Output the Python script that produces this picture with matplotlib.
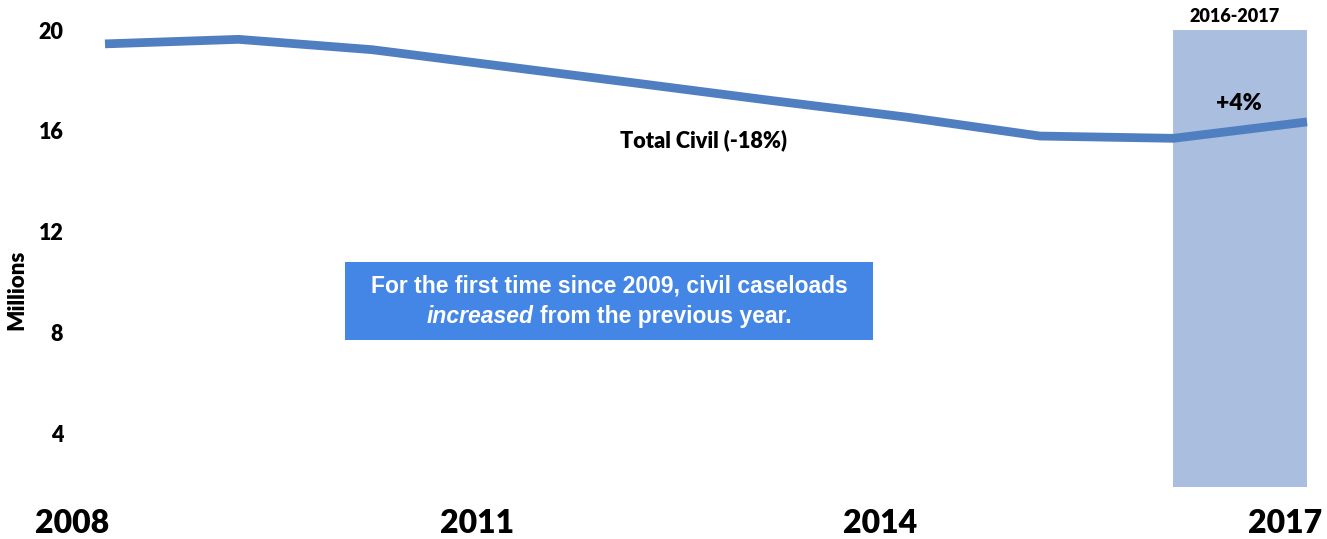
import matplotlib
matplotlib.use("Agg")
import matplotlib.pyplot as plt
from matplotlib.patches import Rectangle
from matplotlib.transforms import ScaledTranslation
from matplotlib.offsetbox import TextArea, HPacker, VPacker, AnnotationBbox

# ---- data ----
years = [2008, 2009, 2010, 2011, 2012, 2013, 2014, 2015, 2016, 2017]
total_civil = [19.45, 19.63, 19.22, 18.55, 17.88, 17.2, 16.55, 15.8, 15.71, 16.36]
y_ticks = [4, 8, 12, 16, 20]
x_ticks = [2008, 2011, 2014, 2017]
x_tick_labels = ["2008", "2011", "2014", "2017"]
highlight_span = (2016, 2017)
series_label = "Total Civil (-18%)"
change_label = "+4%"
span_label = "2016-2017"

W, H = 1327, 539
fig = plt.figure(figsize=(W / 100, H / 100), dpi=100)
ax = fig.add_axes([105 / W, 1 - 487 / H, (1307 - 105) / W, (487 - 30) / H])

LINE = "#4f7fc1"
SHADE = "#aabfdf"
BOX = "#4486e6"
TICKFONT = "Lato"
WT = "heavy"

ax.axvspan(*highlight_span, color=SHADE, zorder=1, lw=0)
ax.plot(years, total_civil, color=LINE, lw=6.3, solid_capstyle="butt",
        solid_joinstyle="miter", zorder=3, clip_on=False)

ax.set_xlim(2008, 2017)
ax.set_ylim(1.9, 20)
for s in ax.spines.values():
    s.set_visible(False)
ax.tick_params(length=0)

ax.set_yticks(y_ticks)
ax.set_yticklabels([str(v) for v in y_ticks], fontsize=15.5, fontweight=WT,
                   family=TICKFONT)
ax.tick_params(axis="y", pad=30)

ax.set_xticks(x_ticks)
ax.set_xticklabels(x_tick_labels, fontsize=23, fontweight=WT, family=TICKFONT)
ax.tick_params(axis="x", pad=16)
offsets = [-33, -29, -26, -22]
for lab, dx in zip(ax.get_xticklabels(), offsets):
    lab.set_transform(lab.get_transform() + ScaledTranslation(dx / 100, 0, fig.dpi_scale_trans))

fig.text(17 / W, 1 - 290 / H, "Millions", rotation=90, ha="center", va="center",
         fontsize=16, fontweight=WT, family=TICKFONT)

ax.text(2012.48, 15.64, series_label, ha="center", va="center", fontsize=15.6,
        fontweight=WT, family=TICKFONT)
ax.text(2016.49, 17.07, change_label, ha="center", va="center", fontsize=16.5,
        fontweight=WT, family=TICKFONT)
ax.text(2016.46, 20.55, span_label, ha="center", va="center", fontsize=13,
        fontweight=WT, family=TICKFONT, clip_on=False)

# callout box
bx0, by0, bw, bh = 2009.80, 7.72, 3.95, 3.09
ax.add_patch(Rectangle((bx0, by0), bw, bh, color=BOX, zorder=4, lw=0))
tprops = dict(color="white", fontsize=16.5, fontweight="bold", family="Liberation Sans")
line1 = TextArea("For the first time since 2009, civil caseloads", textprops=tprops)
l2a = TextArea("increased", textprops=dict(tprops, style="italic"))
l2b = TextArea("from the previous year.", textprops=tprops)
line2 = HPacker(children=[l2a, l2b], align="baseline", pad=0, sep=5)
block = VPacker(children=[line1, line2], align="center", pad=0, sep=5)
ab = AnnotationBbox(block, (bx0 + bw / 2, by0 + bh / 2), frameon=False,
                    box_alignment=(0.5, 0.5), zorder=5)
ax.add_artist(ab)

fig.savefig("out.png", dpi=100)
